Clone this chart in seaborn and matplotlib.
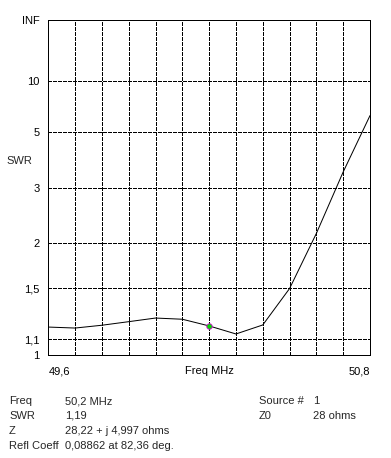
import numpy as np
import pandas as pd
import matplotlib
matplotlib.use('Agg')
import matplotlib.pyplot as plt
import seaborn as sns

sns.set_style('white')
plt.rcParams['font.family'] = ['Liberation Sans', 'DejaVu Sans']
plt.rcParams['font.size'] = 8

# ---------- data ----------
freq_mhz = [49.6, 49.7, 49.8, 49.9, 50.0, 50.1, 50.2, 50.3, 50.4, 50.5, 50.6, 50.7, 50.8]
swr = [1.182, 1.175, 1.195, 1.221, 1.248, 1.239, 1.19, 1.134, 1.197, 1.495, 2.14, 3.41, 6.01]

marker_freq = 50.2
marker_swr = 1.19

swr_ticks = [1, 1.1, 1.5, 2, 3, 5, 10, np.inf]
swr_tick_labels = ['1', '1,1', '1,5', '2', '3', '5', '10', 'INF']
freq_tick_labels = {49.6: '49,6', 50.2: 'Freq MHz', 50.8: '50,8'}

info_left = [('Freq', '50,2 MHz'), ('SWR', '1,19'), ('Z', '28,22 + j 4,997 ohms'),
             ('Refl Coeff', '0,08862 at 82,36 deg.')]
info_right = [('Source #', '1'), ('Z0', '28 ohms')]


def rho(s):
    # SWR axis is linear in reflection coefficient
    s = np.asarray(s, dtype=float)
    return np.where(np.isinf(s), 1.0, (s - 1) / (s + 1))


df = pd.DataFrame({'freq': freq_mhz, 'rho': rho(swr)})

W, H = 391, 458
fig = plt.figure(figsize=(W / 100, H / 100), dpi=100)
ax = fig.add_axes([48.3 / W, 1 - 355 / H, (370 - 48.3) / W, (355 - 20) / H])

px = 0.72  # one pixel in points
sns.lineplot(data=df, x='freq', y='rho', ax=ax, color='black', lw=px)
ax.plot([marker_freq], rho([marker_swr]), marker='o', ms=4, mfc='#00d800',
        mec='#e000e0', mew=0.6, ls='none', zorder=5)

ax.set_xlim(freq_mhz[0], freq_mhz[-1])
ax.set_ylim(0, 1)

ax.set_xticks(freq_mhz)
ax.set_xticklabels([freq_tick_labels.get(round(f, 1), '') for f in freq_mhz])
labs = ax.get_xticklabels()
labs[0].set_ha('left')
labs[-1].set_ha('right')

ax.set_yticks(rho(swr_ticks))
ax.set_yticklabels(swr_tick_labels)
ax.tick_params(axis='both', length=0, labelsize=8, colors='black')
ax.tick_params(axis='y', pad=6.3)
ax.tick_params(axis='x', pad=8)

ax.grid(True, color='black', lw=px, ls=(0, (4, 2)), antialiased=False)
for sp in ax.spines.values():
    sp.set_visible(True)
    sp.set_color('black')
    sp.set_linewidth(px)
    sp.set_antialiased(False)
ax.set_xlabel('')
ax.set_ylabel('')

fig.text(6 / W, 1 - 161 / H, 'SWR', fontsize=8, va='center', ha='left')

rows_y = [401, 416, 431, 446]
for (k, v), y in zip(info_left, rows_y):
    fig.text(9 / W, 1 - y / H, k, fontsize=8, va='center')
    fig.text(65 / W, 1 - y / H, v, fontsize=8, va='center')
for (k, v), y in zip(info_right, rows_y):
    fig.text(259 / W, 1 - y / H, k, fontsize=8, va='center')
    fig.text(313 / W, 1 - y / H, v, fontsize=8, va='center')

fig.savefig('out.png', dpi=100, facecolor='white')
